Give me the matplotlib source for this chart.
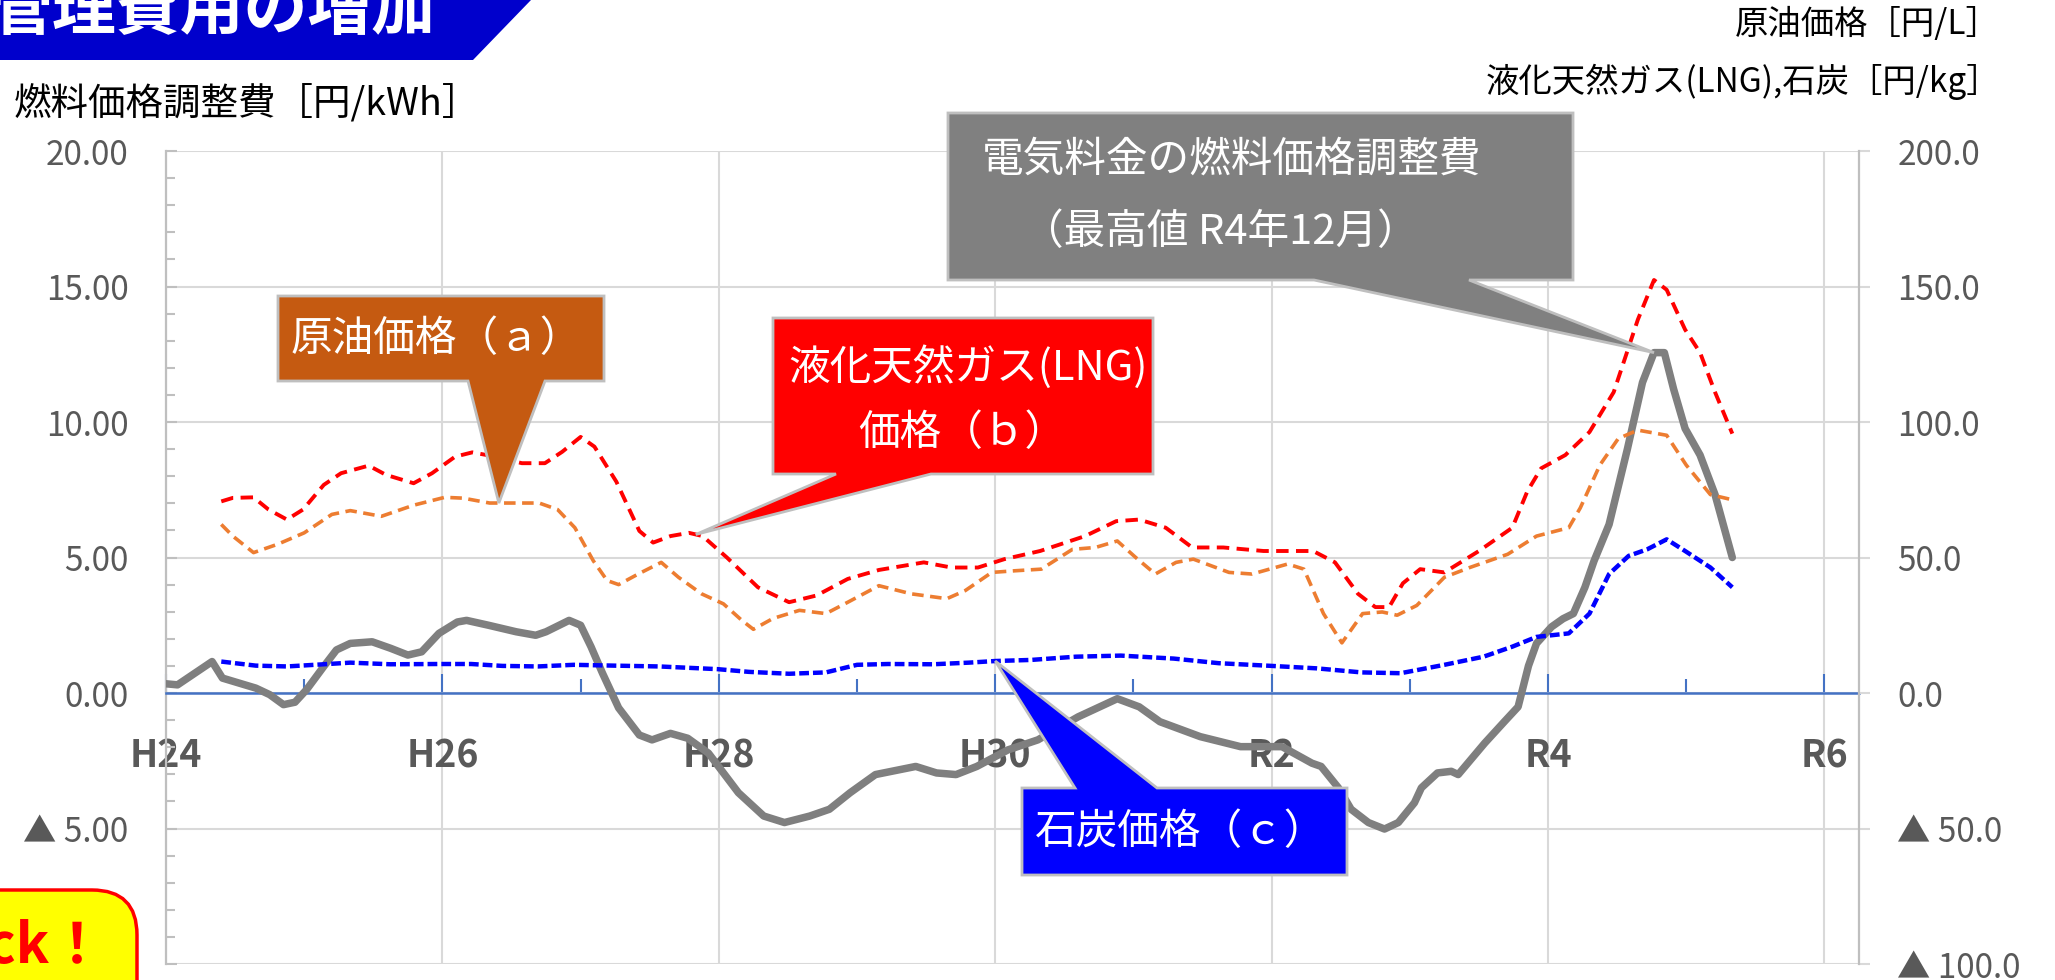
import numpy as np
import matplotlib
matplotlib.use("Agg")
from matplotlib import pyplot as plt
from matplotlib.patches import Polygon, FancyBboxPatch
from matplotlib.ticker import MultipleLocator, FuncFormatter

plt.rcParams['font.family'] = ['Noto Sans CJK JP', 'DejaVu Sans']

W, H = 2055, 980

# x axis: months counted from the start of H24
year_ticks = [0, 24, 48, 72, 96, 120, 144]
year_labels = ['H24', 'H26', 'H28', 'H30', 'R2', 'R4', 'R6']

# fuel cost adjustment [yen/kWh] (left axis)
adj_month = [0, 1.0, 4.0, 4.9, 7.8, 9.0, 10.2, 11.2, 12.2, 13.7, 14.8, 16.0, 17.9, 19.5, 21.0,
             22.2, 23.7, 25.3, 26.1, 28.0, 30.4, 32.1, 33.0, 35.0, 36.0, 36.9, 37.9, 39.3, 41.1,
             42.2, 43.8, 45.3, 47.1, 49.7, 51.9, 53.7, 55.9, 57.6, 59.4, 61.6, 65.1, 66.9, 68.6,
             70.4, 73.1, 75.7, 79.2, 82.6, 84.5, 86.3, 89.8, 93.3, 96.9, 99.5, 100.3, 101.8, 102.9,
             104.4, 105.8, 107.0, 108.4, 109.0, 110.4, 111.6, 112.2, 114.5, 116.2, 117.4, 118.3,
             119.0, 120.3, 121.3, 122.2, 123.2, 124.0, 125.3, 126.9, 128.2, 129.2, 130.1, 130.9,
             131.9, 133.2, 134.5, 136.0]
adj_value = [0.34, 0.30, 1.16, 0.55, 0.18, -0.06, -0.43, -0.34, 0.12, 0.98, 1.59, 1.83, 1.89, 1.65,
             1.40, 1.52, 2.20, 2.62, 2.68, 2.50, 2.26, 2.13, 2.26, 2.68, 2.50, 1.71, 0.73, -0.55,
             -1.55, -1.73, -1.49, -1.67, -2.22, -3.68, -4.54, -4.78, -4.54, -4.29, -3.68, -3.01,
             -2.71, -2.95, -3.01, -2.71, -2.10, -1.73, -0.88, -0.21, -0.51, -1.06, -1.61, -1.98,
             -1.98, -2.59, -2.71, -3.50, -4.29, -4.78, -5.02, -4.78, -4.05, -3.50, -2.95, -2.89,
             -3.01, -1.85, -1.06, -0.51, 1.0, 1.83, 2.44, 2.74, 2.93, 3.90, 4.88, 6.22, 9.02,
             11.46, 12.56, 12.56, 11.22, 9.76, 8.78, 7.32, 5.00]

# crude oil [yen/L] (right axis)
crude_month = [4.8, 5.8, 7.6, 9.7, 12.0, 14.4, 16.0, 18.7, 21.5, 24.2, 25.8, 28.1, 32.4, 34.0, 35.5,
               37.1, 38.3, 39.3, 41.0, 43.0, 44.5, 46.5, 48.4, 50.0, 51.0, 52.7, 55.0, 57.3, 59.2,
               61.9, 64.7, 67.8, 69.4, 71.7, 73.7, 76.0, 78.7, 80.7, 82.6, 84.2, 85.9, 87.7, 89.2,
               92.3, 94.3, 97.4, 98.8, 100.5, 102.1, 103.9, 105.6, 106.9, 108.6, 111.0, 113.2,
               116.5, 119.0, 121.8, 122.8, 124.5, 126.1, 127.8, 130.3, 132.0, 134.1, 136.0]
crude_value = [62.2, 57.9, 51.8, 54.9, 59.1, 65.9, 67.3, 65.2, 69.3, 72.2, 71.9, 70.1, 70.1, 67.7,
               61.0, 48.8, 41.5, 40.0, 43.9, 48.2, 42.7, 36.6, 32.9, 26.8, 23.5, 27.5, 30.5, 29.3,
               33.5, 39.6, 36.6, 34.8, 37.8, 44.5, 45.1, 45.7, 53.0, 53.7, 56.1, 50.0, 43.9, 48.2,
               49.4, 44.5, 43.9, 47.6, 45.7, 29.3, 18.5, 29.3, 29.9, 28.7, 32.3, 42.7, 46.3, 51.2,
               57.9, 61.0, 68.3, 84.1, 93.9, 97.0, 95.1, 84.1, 73.2, 71.3]

# LNG [yen/kg] (right axis)
lng_month = [4.8, 5.8, 7.6, 8.9, 10.5, 11.9, 13.7, 15.2, 17.6, 19.1, 21.5, 23.1, 25.1, 26.6, 28.6,
             30.9, 32.9, 34.4, 36.0, 37.2, 39.1, 41.1, 42.3, 43.8, 45.4, 46.6, 48.7, 51.4, 54.1,
             56.5, 59.2, 61.9, 65.8, 68.2, 70.5, 72.8, 75.9, 79.8, 82.5, 84.5, 86.8, 89.1, 91.8,
             95.3, 99.6, 101.5, 103.5, 105.0, 106.2, 107.4, 108.9, 111.0, 114.0, 116.9, 118.2,
             119.4, 121.5, 123.6, 125.7, 127.8, 129.2, 130.3, 131.9, 133.2, 134.5, 136.0]
lng_value = [70.7, 72.0, 72.2, 67.7, 64.0, 67.7, 76.8, 81.1, 83.9, 80.5, 77.4, 81.1, 87.2, 88.8,
             87.2, 84.8, 84.8, 89.0, 94.5, 90.9, 78.0, 59.8, 55.5, 57.9, 59.1, 57.9, 50.0, 39.0,
             33.5, 36.0, 42.1, 45.4, 48.2, 46.3, 46.3, 49.4, 52.4, 57.9, 63.4, 64.0, 61.0, 53.7,
             53.7, 52.4, 52.4, 48.2, 36.6, 31.7, 31.7, 40.5, 45.7, 44.5, 52.4, 61.0, 74.4, 82.9,
             87.8, 96.3, 111.0, 137.8, 152.4, 148.8, 134.1, 125.6, 111.0, 95.7]

# coal [yen/kg] (right axis)
coal_month = [4.8, 7.8, 10.5, 13.7, 16.0, 19.5, 23.7, 26.5, 29.2, 32.3, 35.4, 38.9, 42.8, 47.9,
              50.6, 54.1, 57.3, 60.0, 62.7, 66.6, 69.7, 72.0, 75.1, 79.0, 82.9, 87.5, 91.4, 96.0,
              99.9, 103.8, 107.2, 111.0, 114.4, 116.9, 119.0, 121.8, 123.6, 125.3, 127.0, 128.6,
              130.3, 131.9, 134.1, 136.0]
coal_value = [11.6, 10.1, 9.8, 10.6, 11.2, 10.6, 10.7, 10.7, 10.0, 9.8, 10.4, 10.1, 9.8, 8.8, 7.8,
              7.1, 7.6, 10.4, 10.7, 10.6, 11.2, 11.8, 12.2, 13.4, 13.8, 12.7, 11.0, 10.0, 9.1, 7.6,
              7.3, 10.4, 13.4, 17.1, 20.7, 22.0, 29.3, 43.9, 50.6, 53.0, 56.7, 52.4, 46.3, 39.0]


def left_fmt(v, pos):
    return f'{v:.2f}' if v >= 0 else f'▲ {-v:.2f}'


def right_fmt(v, pos):
    return f'{v:.1f}' if v >= 0 else f'▲ {-v:.1f}'


fig = plt.figure(figsize=(W / 100, H / 100), dpi=100)
ax = fig.add_axes([166 / W, 16 / H, (1859 - 166) / W, (964 - 151) / H])
ax2 = ax.twinx()

ax.set_xlim(0, 147)
ax.set_ylim(-10, 20)
ax2.set_ylim(-100, 200)

# lines
ax.plot(adj_month, adj_value, color='#7F7F7F', lw=5.4, solid_joinstyle='round',
        solid_capstyle='round', zorder=3)
ax2.plot(crude_month, crude_value, color='#ED7D31', lw=2.6, ls=(0, (3.2, 1.8)))
ax2.plot(lng_month, lng_value, color='#FF0000', lw=2.8, ls=(0, (3.2, 1.9)))
ax2.plot(coal_month, coal_value, color='#0000FF', lw=3.2, ls=(0, (2.2, 0.9)))

# grid and spines
ax.set_axisbelow(True)
ax.grid(True, which='major', color='#D9D9D9', lw=1.5)
ax.spines['bottom'].set_position(('data', 0))
ax.spines['bottom'].set_color('#4472C4')
ax.spines['bottom'].set_linewidth(1.8)
ax.spines['top'].set_visible(False)
ax.spines['right'].set_visible(False)
ax.spines['left'].set_color('#BFBFBF')
ax.spines['left'].set_linewidth(1.6)
for s in ['top', 'left', 'bottom']:
    ax2.spines[s].set_visible(False)
ax2.spines['right'].set_color('#BFBFBF')
ax2.spines['right'].set_linewidth(1.6)

# x ticks
ax.set_xticks(year_ticks)
ax.set_xticklabels(year_labels, fontsize=27, fontweight='bold', color='#595959')
ax.xaxis.set_minor_locator(MultipleLocator(12))
ax.tick_params(axis='x', which='major', direction='in', length=13.5, width=1.5,
               color='#4472C4', pad=31)
ax.tick_params(axis='x', which='minor', direction='in', length=10, width=1.5, color='#4472C4')

# left y ticks
ax.set_yticks(np.arange(-10, 21, 5))
ax.yaxis.set_minor_locator(MultipleLocator(1))
ax.yaxis.set_major_formatter(FuncFormatter(left_fmt))
ax.tick_params(axis='y', which='major', direction='in', length=8, width=1.5, color='#BFBFBF',
               pad=27, labelsize=24, labelcolor='#595959')
ax.tick_params(axis='y', which='minor', direction='in', length=6.5, width=1.5, color='#BFBFBF')

# right y ticks
ax2.set_yticks(np.arange(-100, 201, 50))
ax2.yaxis.set_major_formatter(FuncFormatter(right_fmt))
ax2.tick_params(axis='y', which='major', direction='out', length=8, width=1.5, color='#D9D9D9',
                pad=19.5, labelsize=24, labelcolor='#595959')

# overlay in pixel coordinates (origin top-left)
ov = fig.add_axes([0, 0, 1, 1], zorder=10)
ov.set_xlim(0, W)
ov.set_ylim(H, 0)
ov.axis('off')
ov.patch.set_visible(False)


def to_px(axis, x, y):
    px, py = axis.transData.transform((x, y))
    return px, H - py


def callout(box, base, tip, color, side='bottom'):
    x0, y0, x1, y1 = box
    b1, b2 = base
    if side == 'bottom':
        pts = [(x0, y0), (x1, y0), (x1, y1), (b2, y1), tip, (b1, y1), (x0, y1)]
    else:
        pts = [(x0, y0), (b1, y0), tip, (b2, y0), (x1, y0), (x1, y1), (x0, y1)]
    ov.add_patch(Polygon(pts, closed=True, facecolor=color, edgecolor='#BFBFBF', lw=2,
                         joinstyle='miter'))


# title banner
ov.add_patch(Polygon([(0, 0), (531, 0), (473, 60), (0, 60)], closed=True,
                     facecolor='#0000CC', edgecolor='none'))
ov.text(-12, 10, '管理費用の増加', color='white', fontsize=46, fontweight='bold',
        ha='left', va='center')

# axis titles
ov.text(14, 105, '燃料価格調整費［円/kWh］', fontsize=27, color='black', ha='left', va='center')
ov.text(2000, 25, '原油価格［円/L］', fontsize=24, color='black', ha='right', va='center')
ov.text(2000, 82, '液化天然ガス(LNG),石炭［円/kg］', fontsize=24, color='black',
        ha='right', va='center')

# callouts
tip_crude = to_px(ax2, 28.9, np.interp(28.9, crude_month, crude_value))
callout((278, 296, 604, 381), (468, 545), tip_crude, '#C55A11')
ov.text(291, 339, '原油価格（ａ）', fontsize=30, color='white', ha='left', va='center')

tip_lng = to_px(ax2, 46.0, np.interp(46.0, lng_month, lng_value))
callout((773, 318, 1153, 474), (836, 931), tip_lng, '#FF0000')
ov.text(788, 367, '液化天然ガス(LNG)', fontsize=30, color='white', ha='left', va='center')
ov.text(858, 433, '価格（ｂ）', fontsize=30, color='white', ha='left', va='center')

i_peak = int(np.argmax(adj_value))
tip_adj = to_px(ax, adj_month[i_peak], adj_value[i_peak])
callout((948, 113, 1573, 280), (1314, 1469), tip_adj, '#808080')
ov.text(982, 160, '電気料金の燃料価格調整費', fontsize=30, color='white', ha='left', va='center')
ov.text(1022, 232, '（最高値 R4年12月）', fontsize=30, color='white', ha='left', va='center')

tip_coal = to_px(ax2, 72.0, np.interp(72.0, coal_month, coal_value))
callout((1022, 788, 1347, 875), (1075, 1157), tip_coal, '#0000FF', side='top')
ov.text(1035, 832, '石炭価格（ｃ）', fontsize=30, color='white', ha='left', va='center')

# "Check!" badge at the lower left
ov.add_patch(FancyBboxPatch((-80, 890), 217, 160, boxstyle='round,pad=0,rounding_size=45',
                            facecolor='#FFFF00', edgecolor='#FF0000', lw=2.5))
ov.text(105, 963, 'Check！', fontsize=40, fontweight='bold', color='#FF0000',
        ha='right', va='baseline')

fig.savefig('out.png', dpi=100)
